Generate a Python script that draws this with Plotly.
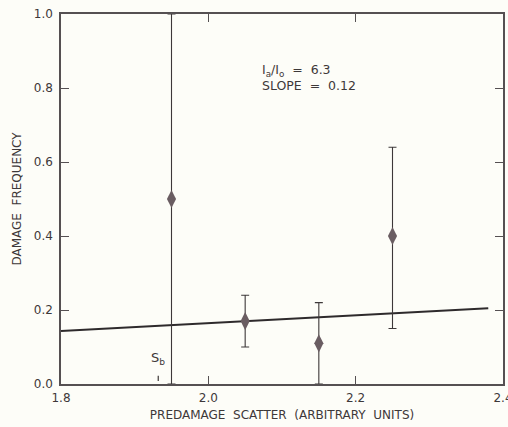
import plotly.graph_objects as go

# data
pt_x = [1.95, 2.05, 2.15, 2.25]
pt_y = [0.50, 0.17, 0.11, 0.40]
err_plus = [0.50, 0.07, 0.11, 0.24]
err_minus = [0.50, 0.07, 0.11, 0.25]
fit_x = [1.80, 2.38]
fit_y = [0.143, 0.205]
sb_x = [1.932, 1.932]
sb_y = [0.008, 0.022]
sb_label_y = 0.068
x_ticks = [1.8, 2.0, 2.2, 2.4]
y_ticks = [0.0, 0.2, 0.4, 0.6, 0.8, 1.0]

ink = "#3d3839"
font_family = "DejaVu Sans, Liberation Sans, Arial, sans-serif"

fig = go.Figure()
fig.add_trace(go.Scatter(x=fit_x, y=fit_y, mode="lines",
                         line=dict(color="#2e2a2c", width=2), hoverinfo="skip"))
fig.add_trace(go.Scatter(x=sb_x, y=sb_y, mode="lines",
                         line=dict(color=ink, width=1.2), hoverinfo="skip"))
fig.add_trace(go.Scatter(
    x=pt_x, y=pt_y, mode="markers",
    marker=dict(symbol="diamond-tall", size=13, color="#6a5d62",
                line=dict(width=0)),
    error_y=dict(type="data", array=err_plus, arrayminus=err_minus,
                 color=ink, thickness=1.1, width=4),
))

fig.add_annotation(x=sb_x[0], y=sb_label_y, text="S<sub>b</sub>", showarrow=False,
                   font=dict(family=font_family, size=13, color=ink))
fig.add_annotation(x=2.07, y=0.875, xanchor="left", yanchor="top", align="left",
                   text="I<sub>a</sub>/I<sub>o</sub>  =  6.3<br>SLOPE  =  0.12",
                   showarrow=False,
                   font=dict(family=font_family, size=12.5, color=ink))

axis_common = dict(showline=True, linecolor="#555052", linewidth=1.5, mirror="ticks",
                   ticks="inside", ticklen=8, tickwidth=1.2, tickcolor="#555052",
                   showgrid=False, zeroline=False, automargin=False,
                   ticklabeloverflow="allow",
                   tickfont=dict(family=font_family, size=12, color=ink))

fig.update_xaxes(range=[1.8, 2.4], tickvals=x_ticks, tickformat=".1f",
                 ticklabelstandoff=2,
                 title=dict(text="PREDAMAGE  SCATTER  (ARBITRARY  UNITS)",
                            font=dict(family=font_family, size=12, color=ink),
                            standoff=6),
                 **axis_common)
fig.update_yaxes(range=[0, 1.0], tickvals=y_ticks, tickformat=".1f",
                 ticklabelstandoff=4,
                 title=dict(text="DAMAGE  FREQUENCY",
                            font=dict(family=font_family, size=12, color=ink),
                            standoff=10),
                 **axis_common)

fig.update_layout(width=508, height=427, showlegend=False, autosize=False,
                  margin=dict(l=61, r=5, t=14, b=43, autoexpand=False),
                  paper_bgcolor="#fdfdf8", plot_bgcolor="#fdfdf8",
                  font=dict(family=font_family, color=ink))
fig.write_html("out.html", config={"displayModeBar": False},
               post_script="document.body.style.margin='0';document.body.style.overflow='hidden';")
